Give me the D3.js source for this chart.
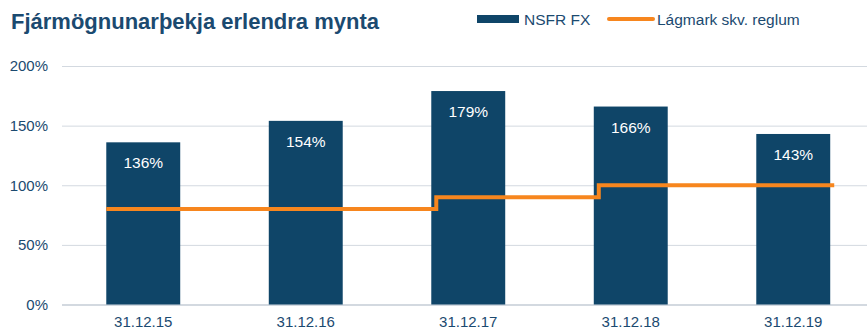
<!DOCTYPE html>
<html>
<head>
<meta charset="utf-8">
<script src="https://cdn.jsdelivr.net/npm/d3@7"></script>
<style>
  html, body { margin: 0; padding: 0; background: #ffffff; }
  svg { display: block; font-family: "Liberation Sans", Arial, sans-serif; }
</style>
</head>
<body>
<svg id="chart" width="867" height="331"></svg>
<script>
// Dates and values
const categories = ["31.12.15", "31.12.16", "31.12.17", "31.12.18", "31.12.19"];
const nsfrFx = [136, 154, 179, 166, 143];
const minRequirement = [80, 80, 90, 100, 100];
const yTicks = [0, 50, 100, 150, 200];

const titleText = "Fjármögnunarþekja erlendra mynta";
const legendLabels = ["NSFR FX", "Lágmark skv. reglum"];

const barColor = "#0f4568";
const lineColor = "#f7861e";
const textColor = "#1b4a70";
const gridColor = "#d3d9e0";
const fontFamily = "Liberation Sans, Arial, sans-serif";

const svg = d3.select("#chart");

const x = d3.scaleBand()
  .domain(categories)
  .range([62, 874.5])
  .paddingInner(0.545)
  .paddingOuter(0.2725);

const y = d3.scaleLinear()
  .domain([0, 200])
  .range([304.5, 66]);

// Gridlines and y labels
const yAxis = d3.axisLeft(y)
  .tickValues(yTicks)
  .tickSize(-(867 - 62))
  .tickPadding(14)
  .tickFormat(d => d + "%");

const gy = svg.append("g")
  .attr("transform", "translate(62,0)")
  .call(yAxis);
gy.select(".domain").remove();
gy.selectAll(".tick line")
  .attr("stroke", gridColor)
  .attr("stroke-width", d => d === 0 ? 2 : 1);
gy.selectAll(".tick text")
  .attr("fill", textColor)
  .attr("font-size", "15px")
  .attr("font-family", fontFamily);

// Bars
svg.append("g")
  .selectAll("rect")
  .data(nsfrFx)
  .join("rect")
  .attr("x", (d, i) => x(categories[i]))
  .attr("y", d => y(d))
  .attr("width", x.bandwidth())
  .attr("height", d => y(0) - y(d))
  .attr("fill", barColor);

// Value labels inside bars
svg.append("g")
  .selectAll("text")
  .data(nsfrFx)
  .join("text")
  .attr("x", (d, i) => x(categories[i]) + x.bandwidth() / 2)
  .attr("y", d => y(d) + 26)
  .attr("text-anchor", "middle")
  .attr("fill", "#ffffff")
  .attr("font-size", "15.5px")
  .text(d => d + "%");

// Category labels
const xAxis = d3.axisBottom(x).tickSize(0).tickPadding(12);
const gx = svg.append("g")
  .attr("transform", `translate(0,${y(0)})`)
  .call(xAxis);
gx.select(".domain").remove();
gx.selectAll(".tick text")
  .attr("fill", textColor)
  .attr("font-size", "15px")
  .attr("font-family", fontFamily);

// Stepped minimum requirement line: each level changes at the left edge of its bar
const stepOffset = 5;
const pts = [];
minRequirement.forEach((v, i) => {
  const left = i === 0 ? x(categories[0]) : x(categories[i]) + stepOffset;
  if (i > 0 && v !== minRequirement[i - 1]) {
    pts.push([left, y(minRequirement[i - 1])]);
  }
  pts.push([left, y(v)]);
});
pts.push([x(categories[categories.length - 1]) + x.bandwidth() + 4, y(minRequirement[minRequirement.length - 1])]);

svg.append("path")
  .datum(pts)
  .attr("d", d3.line())
  .attr("fill", "none")
  .attr("stroke", lineColor)
  .attr("stroke-width", 4);

// Title
svg.append("text")
  .attr("x", 11)
  .attr("y", 29)
  .attr("fill", textColor)
  .attr("font-size", "22px")
  .attr("font-weight", "bold")
  .text(titleText);

// Legend
const legend = svg.append("g");
legend.append("rect")
  .attr("x", 477).attr("y", 15)
  .attr("width", 42).attr("height", 8)
  .attr("fill", barColor);
legend.append("text")
  .attr("x", 524).attr("y", 24.5)
  .attr("fill", textColor)
  .attr("font-size", "15.5px")
  .text(legendLabels[0]);
legend.append("line")
  .attr("x1", 609).attr("x2", 653)
  .attr("y1", 19).attr("y2", 19)
  .attr("stroke", lineColor)
  .attr("stroke-width", 4)
  .attr("stroke-linecap", "round");
legend.append("text")
  .attr("x", 657).attr("y", 24.5)
  .attr("fill", textColor)
  .attr("font-size", "15.5px")
  .text(legendLabels[1]);
</script>
</body>
</html>
